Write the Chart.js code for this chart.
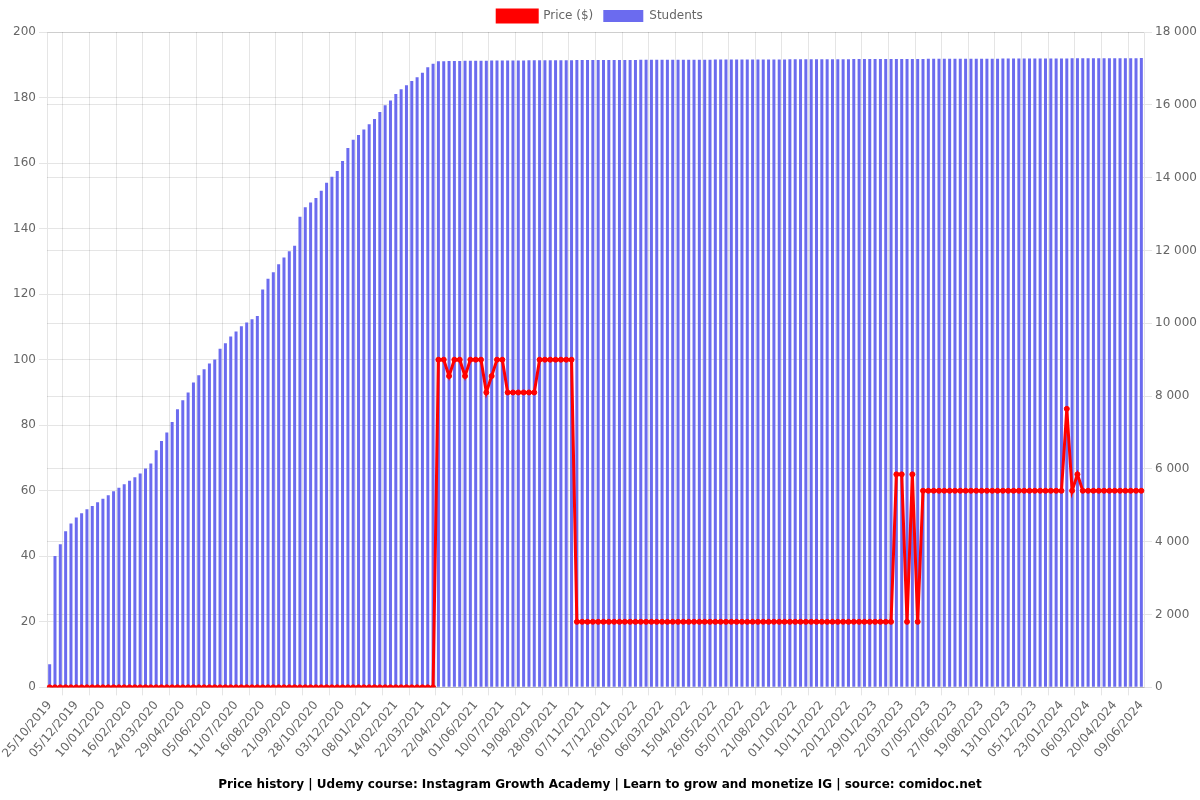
<!DOCTYPE html>
<html>
<head>
<meta charset="utf-8">
<title>Price history</title>
<script src="https://cdn.jsdelivr.net/npm/chart.js@4/dist/chart.umd.min.js"></script>
<style>
  body { margin: 0; background: #fff; }
</style>
</head>
<body>
<canvas id="chartjs-0" width="1200" height="800"></canvas>
<script>
/* dates of each sample (one bar / one point each) */
var dates = [
  "25/10/2019", "02/11/2019", "10/11/2019", "18/11/2019", "27/11/2019",
  "05/12/2019", "12/12/2019", "19/12/2019", "26/12/2019", "03/01/2020",
  "10/01/2020", "17/01/2020", "25/01/2020", "01/02/2020", "08/02/2020",
  "16/02/2020", "23/02/2020", "01/03/2020", "09/03/2020", "16/03/2020",
  "24/03/2020", "31/03/2020", "07/04/2020", "14/04/2020", "22/04/2020",
  "29/04/2020", "06/05/2020", "14/05/2020", "21/05/2020", "28/05/2020",
  "05/06/2020", "12/06/2020", "19/06/2020", "26/06/2020", "04/07/2020",
  "11/07/2020", "18/07/2020", "25/07/2020", "01/08/2020", "09/08/2020",
  "16/08/2020", "23/08/2020", "30/08/2020", "06/09/2020", "14/09/2020",
  "21/09/2020", "28/09/2020", "06/10/2020", "13/10/2020", "20/10/2020",
  "28/10/2020", "04/11/2020", "11/11/2020", "18/11/2020", "26/11/2020",
  "03/12/2020", "10/12/2020", "17/12/2020", "24/12/2020", "01/01/2021",
  "08/01/2021", "15/01/2021", "23/01/2021", "30/01/2021", "06/02/2021",
  "14/02/2021", "21/02/2021", "28/02/2021", "07/03/2021", "15/03/2021",
  "22/03/2021", "28/03/2021", "04/04/2021", "10/04/2021", "16/04/2021",
  "22/04/2021", "30/04/2021", "08/05/2021", "16/05/2021", "24/05/2021",
  "01/06/2021", "09/06/2021", "17/06/2021", "24/06/2021", "02/07/2021",
  "10/07/2021", "18/07/2021", "26/07/2021", "03/08/2021", "11/08/2021",
  "19/08/2021", "27/08/2021", "04/09/2021", "12/09/2021", "20/09/2021",
  "28/09/2021", "06/10/2021", "14/10/2021", "22/10/2021", "30/10/2021",
  "07/11/2021", "15/11/2021", "23/11/2021", "01/12/2021", "09/12/2021",
  "17/12/2021", "25/12/2021", "02/01/2022", "10/01/2022", "18/01/2022",
  "26/01/2022", "03/02/2022", "11/02/2022", "19/02/2022", "26/02/2022",
  "06/03/2022", "14/03/2022", "22/03/2022", "30/03/2022", "07/04/2022",
  "15/04/2022", "23/04/2022", "01/05/2022", "09/05/2022", "18/05/2022",
  "26/05/2022", "03/06/2022", "11/06/2022", "19/06/2022", "27/06/2022",
  "05/07/2022", "14/07/2022", "24/07/2022", "03/08/2022", "12/08/2022",
  "21/08/2022", "29/08/2022", "06/09/2022", "15/09/2022", "23/09/2022",
  "01/10/2022", "09/10/2022", "17/10/2022", "25/10/2022", "02/11/2022",
  "10/11/2022", "18/11/2022", "26/11/2022", "04/12/2022", "12/12/2022",
  "20/12/2022", "28/12/2022", "05/01/2023", "13/01/2023", "21/01/2023",
  "29/01/2023", "09/02/2023", "19/02/2023", "01/03/2023", "11/03/2023",
  "22/03/2023", "31/03/2023", "09/04/2023", "19/04/2023", "28/04/2023",
  "07/05/2023", "17/05/2023", "27/05/2023", "07/06/2023", "17/06/2023",
  "27/06/2023", "08/07/2023", "18/07/2023", "29/07/2023", "08/08/2023",
  "19/08/2023", "30/08/2023", "10/09/2023", "21/09/2023", "02/10/2023",
  "13/10/2023", "24/10/2023", "03/11/2023", "14/11/2023", "24/11/2023",
  "05/12/2023", "15/12/2023", "25/12/2023", "04/01/2024", "14/01/2024",
  "23/01/2024", "31/01/2024", "09/02/2024", "17/02/2024", "26/02/2024",
  "06/03/2024", "15/03/2024", "24/03/2024", "02/04/2024", "11/04/2024",
  "20/04/2024", "30/04/2024", "10/05/2024", "20/05/2024", "30/05/2024",
  "09/06/2024"
];

/* price in $ (left axis) */
var price = [
  0, 0, 0, 0, 0, 0, 0, 0, 0, 0,
  0, 0, 0, 0, 0, 0, 0, 0, 0, 0,
  0, 0, 0, 0, 0, 0, 0, 0, 0, 0,
  0, 0, 0, 0, 0, 0, 0, 0, 0, 0,
  0, 0, 0, 0, 0, 0, 0, 0, 0, 0,
  0, 0, 0, 0, 0, 0, 0, 0, 0, 0,
  0, 0, 0, 0, 0, 0, 0, 0, 0, 0,
  0, 0, 0, 100, 100, 95, 100, 100, 95, 100,
  100, 100, 90, 95, 100, 100, 90, 90, 90, 90,
  90, 90, 100, 100, 100, 100, 100, 100, 100, 20,
  20, 20, 20, 20, 20, 20, 20, 20, 20, 20,
  20, 20, 20, 20, 20, 20, 20, 20, 20, 20,
  20, 20, 20, 20, 20, 20, 20, 20, 20, 20,
  20, 20, 20, 20, 20, 20, 20, 20, 20, 20,
  20, 20, 20, 20, 20, 20, 20, 20, 20, 20,
  20, 20, 20, 20, 20, 20, 20, 20, 20, 65,
  65, 20, 65, 20, 60, 60, 60, 60, 60, 60,
  60, 60, 60, 60, 60, 60, 60, 60, 60, 60,
  60, 60, 60, 60, 60, 60, 60, 60, 60, 60,
  60, 85, 60, 65, 60, 60, 60, 60, 60, 60,
  60, 60, 60, 60, 60, 60
];

/* enrolled students (right axis) */
var students = [
  632, 3608, 3930, 4287, 4498, 4663, 4782, 4891, 4982, 5084,
  5180, 5276, 5386, 5482, 5578, 5675, 5771, 5872, 6010, 6147,
  6513, 6768, 6999, 7290, 7639, 7887, 8098, 8373, 8574, 8739,
  8895, 9005, 9297, 9453, 9637, 9777, 9920, 10022, 10113, 10203,
  10929, 11220, 11404, 11624, 11808, 11981, 12127, 12924, 13190, 13320,
  13438, 13638, 13858, 14023, 14180, 14454, 14812, 15040, 15169, 15325,
  15463, 15609, 15801, 15985, 16122, 16296, 16425, 16535, 16653, 16754,
  16881, 17029, 17128, 17194, 17198, 17201, 17203, 17205, 17207, 17209,
  17210, 17212, 17213, 17214, 17215, 17216, 17217, 17218, 17219, 17220,
  17221, 17222, 17223, 17223, 17224, 17225, 17226, 17226, 17227, 17228,
  17228, 17229, 17230, 17230, 17231, 17232, 17232, 17233, 17233, 17234,
  17234, 17235, 17235, 17236, 17236, 17237, 17237, 17238, 17238, 17239,
  17239, 17240, 17240, 17241, 17241, 17242, 17242, 17243, 17243, 17244,
  17244, 17245, 17245, 17246, 17246, 17247, 17247, 17248, 17248, 17249,
  17249, 17250, 17250, 17251, 17251, 17252, 17252, 17253, 17253, 17254,
  17254, 17255, 17255, 17256, 17256, 17257, 17257, 17258, 17258, 17259,
  17259, 17260, 17260, 17261, 17261, 17262, 17262, 17263, 17263, 17264,
  17264, 17265, 17265, 17266, 17266, 17267, 17267, 17268, 17268, 17269,
  17269, 17270, 17270, 17271, 17271, 17272, 17272, 17273, 17273, 17274,
  17274, 17275, 17276, 17276, 17277, 17277, 17278, 17278, 17279, 17279,
  17280, 17281, 17281, 17282, 17282, 17283
];

var titleText = "Price history | Udemy course: Instagram Growth Academy | Learn to grow and monetize IG | source: comidoc.net";

Chart.defaults.font.family = "'DejaVu Sans', sans-serif";
Chart.defaults.font.size = 12;
Chart.defaults.color = "#666";

var ctx = document.getElementById("chartjs-0");

var myChart = new Chart(ctx, {
  type: "bar",
  data: {
    labels: dates,
    datasets: [
      {
        type: "line",
        label: "Price ($)",
        data: price,
        yAxisID: "y",
        borderColor: "#ff0000",
        backgroundColor: "#ff0000",
        borderWidth: 3,
        pointRadius: 2.5,
        pointBorderWidth: 1,
        pointBackgroundColor: "#ff0000",
        pointBorderColor: "#ff0000",
        fill: false,
        lineTension: 0,
      },
      {
        label: "Students",
        data: students,
        yAxisID: "y1",
        backgroundColor: "#6b6bef",
        borderWidth: 0,
        barPercentage: 0.75,
        categoryPercentage: 0.75,
      },
    ],
  },
  options: {
    responsive: false,
    animation: false,
    plugins: {
      legend: {
        position: "top",
      },
      title: {
        display: true,
        position: "bottom",
        text: titleText,
        color: "#000",
        font: { size: 12, weight: "bold" },
        padding: { top: 14, bottom: 8 },
      },
    },
    scales: {
      x: {
        afterBuildTicks: function (axis) {
          /* one date label every 5 samples */
          axis.ticks = axis.ticks.filter(function (t, i) {
            return i % 5 === 0;
          });
        },
        ticks: {
          autoSkip: false,
          minRotation: 50,
          maxRotation: 50,
        },
      },
      y: {
        position: "left",
        min: 0,
        max: 200,
        ticks: { stepSize: 20 },
        afterFit: function (axis) {
          /* a bit wider so the first date label is not cut */
          axis.width = 47;
        },
      },
      y1: {
        position: "right",
        min: 0,
        max: 18000,
        ticks: {
          stepSize: 2000,
          callback: function (v) {
            return String(v).replace(/\B(?=(\d{3})+(?!\d))/g, " ");
          },
        },
      },
    },
  },
});
</script>
</body>
</html>
